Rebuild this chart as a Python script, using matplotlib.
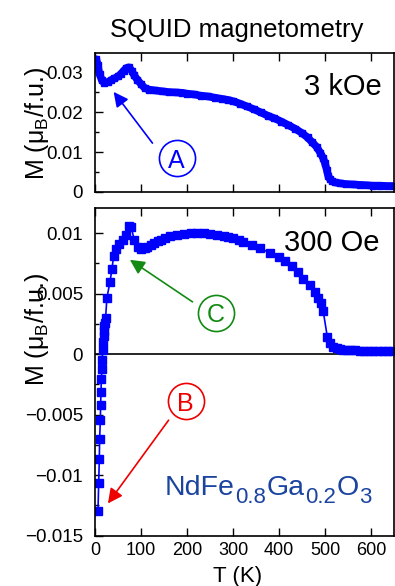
import matplotlib
matplotlib.use('Agg')
import matplotlib.pyplot as plt
import matplotlib.ticker as ticker

plt.rcParams['font.family'] = ['Liberation Sans', 'DejaVu Sans']
plt.rcParams['mathtext.fontset'] = 'custom'
plt.rcParams['mathtext.rm'] = 'Liberation Sans'
plt.rcParams['mathtext.it'] = 'Liberation Sans:italic'

# ---- data ----
# 3 kOe run
t_3koe = [3, 6, 10, 15, 20, 28, 35, 42, 50, 56, 62, 68, 74, 80, 85, 92, 100, 108,
          118, 130, 145, 160, 175, 190, 200, 215, 230, 245, 260, 275, 290, 300,
          315, 330, 345, 360, 375, 390, 405, 420, 435, 450, 462, 472, 482, 490,
          496, 500, 504, 507, 511, 516, 522, 532, 545, 560, 575, 590, 605, 620,
          635, 648]
m_3koe = [0.0333, 0.0318, 0.0296, 0.0280, 0.0274, 0.0276, 0.0281, 0.0285, 0.0290,
          0.0296, 0.0304, 0.0311, 0.0313, 0.0304, 0.0293, 0.0282, 0.0271, 0.0261,
          0.0257, 0.0255, 0.0253, 0.0251, 0.0250, 0.0249, 0.0247, 0.0245, 0.0242,
          0.0240, 0.0237, 0.0234, 0.0231, 0.0228, 0.0222, 0.0215, 0.0208, 0.0200,
          0.0192, 0.0185, 0.0177, 0.0168, 0.0159, 0.0148, 0.0137, 0.0125, 0.0113,
          0.0098, 0.0085, 0.0072, 0.0055, 0.0040, 0.0032, 0.0027, 0.0024, 0.0022,
          0.0020, 0.0019, 0.0018, 0.0017, 0.0016, 0.0016, 0.0015, 0.0015]

# 300 Oe run
t_300oe = [6.5, 8, 9.4, 10.1, 11.6, 12.3, 13, 13.8, 15, 15.5, 16.6, 17.5, 18.5,
           19.5, 20.5, 21.5, 23, 26, 32.5, 36.8, 40.4, 45.5, 52.6, 60, 67, 74, 79,
           85, 92.4, 101, 108, 114, 121, 128, 136, 143, 152, 164, 178, 193, 208,
           222, 236, 251, 265, 280, 290, 301, 312, 322, 341, 359, 379.5, 399, 413,
           428, 442, 453, 467.5, 478, 485.5, 490.7, 496, 505, 511, 518, 525, 532,
           540, 548, 556, 565, 575, 585, 595, 605, 615, 625, 635, 645]
m_300oe = [-0.0130, -0.01067, -0.00865, -0.00699, -0.00547, -0.00423, -0.00313,
           -0.0021, -0.00127, -0.0005, 0.00033, 0.00102, 0.0015, 0.0019, 0.0023,
           0.0026, 0.0030, 0.00467, 0.00594, 0.00702, 0.00807, 0.00868, 0.0091,
           0.00945, 0.00987, 0.01055, 0.01047, 0.00945, 0.00881, 0.00868, 0.00874,
           0.00885, 0.00900, 0.00918, 0.00932, 0.00945, 0.00958, 0.00973, 0.00984,
           0.00992, 0.00998, 0.01001, 0.00998, 0.00992, 0.00986, 0.00978, 0.00970,
           0.00959, 0.00944, 0.00928, 0.00898, 0.00876, 0.00835, 0.00802, 0.00765,
           0.00724, 0.00682, 0.00622, 0.00572, 0.00512, 0.00462, 0.0042, 0.00357,
           0.00143, 0.00089, 0.0006, 0.00048, 0.00041, 0.00037, 0.00034, 0.00032,
           0.00030, 0.00029, 0.00028, 0.00027, 0.00026, 0.00026, 0.00025, 0.00025,
           0.00025]

x_ticks = [0, 100, 200, 300, 400, 500, 600]
top_yticks = [0, 0.01, 0.02, 0.03]
top_ylabels = ['0', '0.01', '0.02', '0.03']
bot_yticks = [-0.015, -0.01, -0.005, 0, 0.005, 0.01]
bot_ylabels = ['\u22120.015', '\u22120.01', '\u22120.005', '0', '0.005', '0.01']

# formula pieces: (text, is_subscript)
formula = [('NdFe', False), ('0.8', True), ('Ga', False), ('0.2', True),
           ('O', False), ('3', True)]

BLUE = '#0000ff'

fig = plt.figure(figsize=(3.95, 5.86), dpi=100)
ax1 = fig.add_axes([95/395, 1-192/586, 299/395, 139/586])      # 3 kOe panel
ax2 = fig.add_axes([95/395, 1-535.5/586, 299/395, 327.5/586])  # 300 Oe panel

for ax in (ax1, ax2):
    ax.set_xlim(0, 650)
    ax.xaxis.set_major_locator(ticker.FixedLocator(x_ticks))
    ax.tick_params(axis='x', direction='in', top=True, bottom=True, length=5.5,
                   width=1, labelsize=13, pad=4.5)
    ax.tick_params(axis='y', which='major', direction='in', length=6, width=1,
                   labelsize=13.5, pad=8.5)
    ax.tick_params(axis='y', which='minor', direction='in', length=3, width=1)
    for s in ax.spines.values():
        s.set_linewidth(1.2)

# top panel: dense points merge into a thick band
ax1.plot(t_3koe, m_3koe, color=BLUE, lw=5.5, marker='s', ms=4.5, mec=BLUE, mfc=BLUE,
         solid_joinstyle='round', solid_capstyle='round')
ax1.set_ylim(0, 0.0349)
ax1.yaxis.set_major_locator(ticker.FixedLocator(top_yticks))
ax1.yaxis.set_minor_locator(ticker.MultipleLocator(0.005))
ax1.set_yticklabels(top_ylabels)
ax1.tick_params(axis='x', labelbottom=False)
ax1.text(0.96, 0.698, '3 kOe', transform=ax1.transAxes, ha='right',
         va='baseline', fontsize=21)

# bottom panel
ax2.axhline(0, color='black', lw=1.2, zorder=1)
ax2.plot(t_300oe, m_300oe, color=BLUE, lw=1.2, marker='s', ms=5.5, mec=BLUE, mfc=BLUE)
ax2.set_ylim(-0.015, 0.01207)
ax2.yaxis.set_major_locator(ticker.FixedLocator(bot_yticks))
ax2.yaxis.set_minor_locator(ticker.MultipleLocator(0.0025))
ax2.set_yticklabels(bot_ylabels)
ax2.text(0.953, 0.8696, '300 Oe', transform=ax2.transAxes, ha='right',
         va='baseline', fontsize=21)

# chemical formula, pieces chained one after another
base_y = 0.1237
prev = ax2.text(0.234, base_y, formula[0][0], transform=ax2.transAxes, ha='left',
                va='baseline', fontsize=20.5, color='#1a44a0')
for piece, sub in formula[1:]:
    prev = ax2.annotate(piece, xy=(1, base_y), xycoords=(prev, 'axes fraction'),
                        xytext=(0.3, -5.8 if sub else 0), textcoords='offset points',
                        ha='left', va='baseline', fontsize=16 if sub else 20.5,
                        color='#1a44a0')

# circled labels with arrows
def circled(ax, letter, cx, cy, tail, tip, color):
    ax.plot([cx], [cy], 'o', ms=26, mfc='none', mec=color, mew=1.2, clip_on=False)
    ax.text(cx, cy, letter, ha='center', va='center_baseline', fontsize=18, color=color)
    ax.annotate('', xy=tip, xytext=tail,
                arrowprops=dict(arrowstyle='-|>', color=color, lw=1.2,
                                mutation_scale=22, shrinkA=0, shrinkB=0))

circled(ax1, 'A', 177.5, 0.00852, (124.9, 0.01228), (40.5, 0.02514), BLUE)
circled(ax2, 'C', 262, 0.0034, (212, 0.00431), (75.8, 0.00779), '#138a13')
circled(ax2, 'B', 197, -0.0039, (160, -0.00547), (28.1, -0.01235), '#ee0000')

# labels and title
ylab = 'M (\u03bc$_{\\mathrm{B}}$/f.u.)'
fig.text(37/395, 1-123/586, ylab, rotation=90, ha='center', va='center', fontsize=18)
fig.text(37/395, 1-329/586, ylab, rotation=90, ha='center', va='center', fontsize=18)
fig.text(237.5/395, 1-582/586, 'T (K)', ha='center', va='baseline', fontsize=16)
fig.text(236.5/395, 1-37/586, 'SQUID magnetometry', ha='center', va='baseline',
         fontsize=18.5)

fig.savefig('out.png', dpi=100)
